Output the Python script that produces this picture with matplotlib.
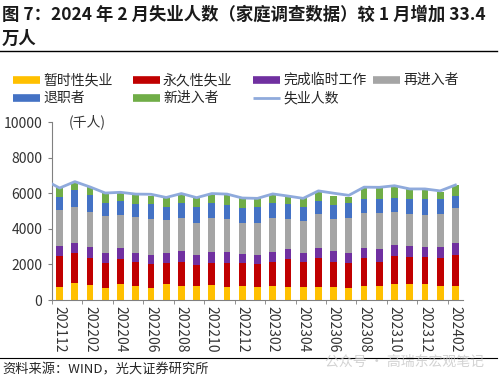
import numpy as np
import matplotlib
matplotlib.use("Agg")
from matplotlib import pyplot as plt
from matplotlib.lines import Line2D

plt.rcParams['font.family'] = ['Noto Sans CJK SC', 'DejaVu Sans']

# ---------- Data (thousands of persons) ----------
months = ["202112", "202201", "202202", "202203", "202204", "202205", "202206",
          "202207", "202208", "202209", "202210", "202211", "202212", "202301",
          "202302", "202303", "202304", "202305", "202306", "202307", "202308",
          "202309", "202310", "202311", "202312", "202401", "202402"]

temp_layoff = [750, 970, 840, 690, 900, 800, 690, 880, 790, 790, 840, 750, 790, 750,
               790, 750, 750, 750, 750, 690, 790, 790, 880, 880, 880, 800, 790]
perm_loser = [1720, 1650, 1540, 1370, 1390, 1350, 1330, 1180, 1360, 1180, 1260, 1350, 1310, 1250,
              1360, 1540, 1370, 1630, 1400, 1410, 1550, 1360, 1610, 1550, 1550, 1580, 1740]
temp_job_end = [580, 600, 580, 600, 650, 510, 510, 560, 600, 560, 620, 620, 470, 530,
                570, 560, 500, 560, 600, 560, 560, 700, 600, 600, 560, 610, 660]
reentrants = [2010, 1990, 2000, 2060, 1820, 1980, 2000, 1870, 1840, 1810, 1870, 1810, 1770, 1810,
              1870, 1680, 1820, 1870, 1780, 1930, 1970, 2020, 1870, 1780, 1790, 1840, 1960]
job_leavers = [740, 970, 940, 750, 820, 750, 840, 750, 880, 900, 840, 810, 850, 900,
               880, 840, 770, 770, 810, 840, 790, 800, 790, 850, 880, 830, 690]
new_entrants = [530, 470, 430, 520, 450, 510, 470, 530, 480, 470, 520, 580, 520, 470,
                430, 400, 500, 510, 520, 370, 650, 600, 650, 560, 520, 430, 620]

# total unemployed line (first value sits on the left edge of the axis)
unemployed = [6520, 6290, 6650, 6350, 6010, 6050, 5950, 5940, 5760, 5980, 5750, 5980, 5950, 5730,
              5710, 5960, 5840, 5710, 6130, 6000, 5880, 6340, 6330, 6420, 6240, 6240, 6130, 6460]

series = [
    ("暂时性失业", temp_layoff, "#FFC000"),
    ("永久性失业", perm_loser, "#C00000"),
    ("完成临时工作", temp_job_end, "#7030A0"),
    ("再进入者", reentrants, "#A5A5A5"),
    ("退职者", job_leavers, "#4472C4"),
    ("新进入者", new_entrants, "#70AD47"),
]
line_name = "失业人数"
line_color = "#8FAADC"

# ---------- Figure ----------
fig = plt.figure(figsize=(5.0, 3.81), dpi=100)

fig.text(0.004, 1 - 15 / 381, "图 7：2024 年 2 月失业人数（家庭调查数据）较 1 月增加 33.4",
         fontsize=12.5, fontweight="bold", va="center", ha="left", color="#1a1a1a")
fig.text(0.004, 1 - 39 / 381, "万人", fontsize=12.5, fontweight="bold",
         va="center", ha="left", color="#1a1a1a")
fig.add_artist(Line2D([0.0, 0.994], [1 - 51 / 381] * 2, color="black", lw=1.0))

# manual legend in a fixed grid, like the original
items = [(n, c, 5.5) for n, _, c in series] + [(line_name, line_color, 2.0)]
col_x = [13, 133, 253, 373]
row_y = [80, 98]
for k, (name, color, lw) in enumerate(items):
    cx = col_x[k % 4]
    cy = row_y[k // 4]
    fig.add_artist(Line2D([cx / 500, (cx + 27) / 500], [1 - cy / 381] * 2,
                          color=color, lw=lw, solid_capstyle="butt"))
    fig.text((cx + 30) / 500, 1 - cy / 381, name, fontsize=10, va="center",
             ha="left", color="#262626")

ax = fig.add_axes([52 / 500, 1 - 300 / 381, 411 / 500, 178 / 381])
x = np.arange(len(months))
bottom = np.zeros(len(months))
for name, vals, color in series:
    ax.bar(x, vals, width=0.45, bottom=bottom, color=color, label=name, zorder=2)
    bottom += np.array(vals)

line_x = np.concatenate([[-0.5], x])
ax.plot(line_x, unemployed, color=line_color, lw=2.0, zorder=3)

ax.set_xlim(-0.5, len(months) - 0.5)
ax.set_ylim(0, 10000)
ax.set_yticks(np.arange(0, 10001, 2000))
ax.set_xticks(x[::2])
ax.set_xticklabels(months[::2], rotation=-90, fontsize=10, color="#333333")
ax.set_xticks(np.arange(-0.5, len(months), 2), minor=True)
ax.tick_params(axis="x", which="major", length=0, pad=4)
ax.tick_params(axis="x", which="minor", length=3, direction="out", color="#808080")
ax.tick_params(axis="y", length=3, direction="out", color="#808080", labelsize=10,
               labelcolor="#333333", pad=4)
for side in ["top", "right"]:
    ax.spines[side].set_visible(False)
for side in ["left", "bottom"]:
    ax.spines[side].set_color("#808080")
    ax.spines[side].set_linewidth(0.8)

ax.text(0.04, 1.0, "(千人)", transform=ax.transAxes, fontsize=10, va="center",
        ha="left", color="#333333")

fig.add_artist(Line2D([0.0, 0.994], [1 - 358 / 381] * 2, color="black", lw=0.8))
fig.text(0.004, 1 - 370 / 381, "资料来源：WIND，光大证券研究所", fontsize=9.5,
         va="center", ha="left", color="#262626")
# faint watermark sitting on the separator line
fig.text(0.968, 1 - 362 / 381, "公众号 · 高瑞东宏观笔记", fontsize=10,
         va="center", ha="right", color="#c8c8c8", alpha=0.8)

fig.savefig("out.png", dpi=100)
